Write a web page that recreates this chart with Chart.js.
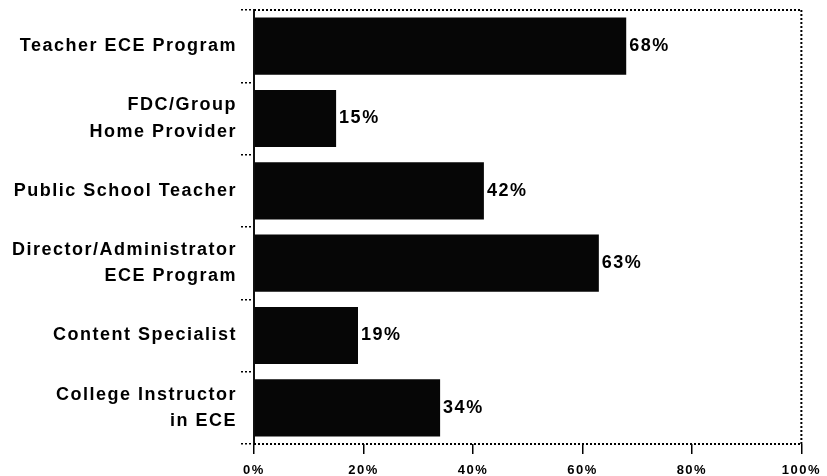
<!DOCTYPE html>
<html><head><meta charset="utf-8">
<script src="https://cdn.jsdelivr.net/npm/chart.js@4/dist/chart.umd.min.js"></script>
<style>html,body{margin:0;padding:0;background:#fff}#wrap{width:827px;height:476px}</style>
</head><body><div id="wrap"><canvas id="c" width="827" height="476"></canvas></div>
<script>
const categories = [
  ["Teacher ECE Program"],
  ["FDC/Group", "Home Provider"],
  ["Public School Teacher"],
  ["Director/Administrator", "ECE Program"],
  ["Content Specialist"],
  ["College Instructor", "in ECE"]
];
const percentages = [68, 15, 42, 63, 19, 34];
const tickStep = 20;
const axisMin = 0;
const axisMax = 100;

const FONT = '"Liberation Sans", Arial, Helvetica, sans-serif';

const spacing = {
  id: 'spacing',
  beforeDraw(chart) { chart.ctx.letterSpacing = '1.5px'; }
};

// dotted frame on top, right and bottom edges of the plot area
const dottedFrame = {
  id: 'dottedFrame',
  afterDraw(chart) {
    const { ctx, chartArea: a } = chart;
    ctx.save();
    ctx.strokeStyle = '#000';
    ctx.lineWidth = 2;
    ctx.setLineDash([2, 2]);
    ctx.beginPath();
    ctx.moveTo(a.left, a.top); ctx.lineTo(a.right, a.top);
    ctx.moveTo(a.right, a.top); ctx.lineTo(a.right, a.bottom);
    ctx.moveTo(a.left, a.bottom); ctx.lineTo(a.right, a.bottom);
    ctx.stroke();
    ctx.restore();
  }
};

const valueLabels = {
  id: 'valueLabels',
  afterDatasetsDraw(chart) {
    const ctx = chart.ctx;
    const meta = chart.getDatasetMeta(0);
    ctx.save();
    ctx.font = 'bold 18px ' + FONT;
    ctx.fillStyle = '#000';
    ctx.textBaseline = 'middle';
    ctx.textAlign = 'left';
    meta.data.forEach((bar, i) => {
      ctx.fillText(percentages[i] + '%', bar.x + 3, bar.y);
    });
    ctx.restore();
  }
};

new Chart(document.getElementById('c'), {
  type: 'bar',
  data: {
    labels: categories,
    datasets: [{
      data: percentages,
      backgroundColor: '#060606',
      borderWidth: 0,
      barPercentage: 0.79,
      categoryPercentage: 1.0
    }]
  },
  options: {
    indexAxis: 'y',
    responsive: false,
    devicePixelRatio: 1,
    animation: false,
    layout: { padding: 0 },
    plugins: { legend: { display: false }, tooltip: { enabled: false } },
    scales: {
      x: {
        type: 'linear', position: 'bottom', min: axisMin, max: axisMax,
        ticks: {
          stepSize: tickStep,
          callback: v => v + '%',
          font: { family: FONT, weight: 'bold', size: 13 },
          color: '#000',
          padding: 9,
          maxRotation: 0
        },
        grid: { drawOnChartArea: false, drawTicks: true, tickLength: 10, color: '#000', lineWidth: 1.5 },
        border: { display: false },
        afterFit: s => { s.height = 32; s.paddingLeft = 0; }
      },
      x2: {
        type: 'linear', position: 'top', min: 0, max: 1,
        ticks: { display: false },
        grid: { display: false, drawOnChartArea: false, drawTicks: false },
        border: { display: false },
        afterFit: s => { s.height = 10; }
      },
      y: {
        type: 'category', position: 'left',
        ticks: {
          font: { family: FONT, weight: 'bold', size: 18, lineHeight: 1.47 },
          color: '#000',
          padding: 4,
          crossAlign: 'near'
        },
        grid: { offset: true, drawOnChartArea: false, drawTicks: true, tickLength: 13, color: '#000', lineWidth: 1.5, tickBorderDash: [2, 2] },
        border: { display: true, color: '#111', width: 2 },
        afterFit: s => { s.width = 254; s.paddingTop = 0; s.paddingBottom = 0; }
      },
      y2: {
        type: 'linear', position: 'right', min: 0, max: 1,
        ticks: { display: false },
        grid: { display: false, drawOnChartArea: false, drawTicks: false },
        border: { display: false },
        afterFit: s => { s.width = 25; }
      }
    }
  },
  plugins: [spacing, dottedFrame, valueLabels]
});
</script>
</body></html>
